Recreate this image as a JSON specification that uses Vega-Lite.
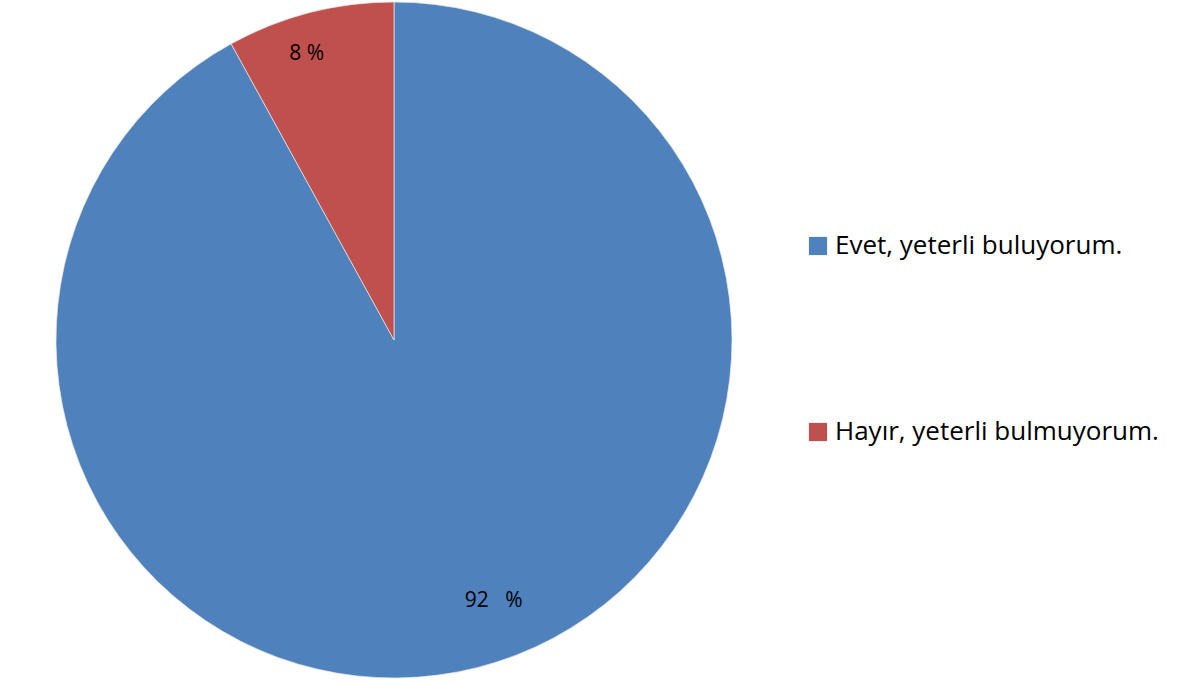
{
  "$schema": "https://vega.github.io/schema/vega-lite/v6.json",
  "width": 788,
  "height": 680,
  "padding": {"left": 0, "top": 0, "right": 0, "bottom": 0},
  "background": "white",
  "config": {"view": {"stroke": null}},
  "data": {"values": [
    {"category": "Evet, yeterli buluyorum.", "value": 92, "label": "92\u00a0\u00a0 %"},
    {"category": "Hayır, yeterli bulmuyorum.", "value": 8, "label": "8 %"}
  ]},
  "encoding": {
    "theta": {"field": "value", "type": "quantitative", "stack": true},
    "order": {"field": "value", "type": "quantitative", "sort": "descending"}
  },
  "layer": [
    {
      "mark": {"type": "arc", "outerRadius": 338, "stroke": "#e8e8e8", "strokeWidth": 0.7},
      "encoding": {
        "color": {
          "field": "category", "type": "nominal",
          "scale": {"domain": ["Evet, yeterli buluyorum.", "Hayır, yeterli bulmuyorum."], "range": ["#4F81BD", "#C0504D"]},
          "legend": {
            "title": null,
            "orient": "none",
            "legendX": 805,
            "legendY": 233,
            "symbolType": "square",
            "symbolSize": 330,
            "symbolStrokeWidth": 0,
            "labelFont": "Open Sans",
            "labelFontSize": 26,
            "labelColor": "#000000",
            "labelOffset": 4,
            "rowPadding": 160,
            "labelLimit": 400
          }
        }
      }
    },
    {
      "mark": {"type": "text", "radius": 299, "dx": -13, "dy": 4, "font": "Open Sans", "fontSize": 21, "color": "#000000"},
      "encoding": {"text": {"condition": {"test": "datum.value == 8", "field": "label"}, "value": ""}}
    },
    {
      "mark": {"type": "text", "radius": 280, "dx": 30, "dy": -10, "font": "Open Sans", "fontSize": 21, "color": "#000000"},
      "encoding": {"text": {"condition": {"test": "datum.value == 92", "field": "label"}, "value": ""}}
    }
  ]
}
